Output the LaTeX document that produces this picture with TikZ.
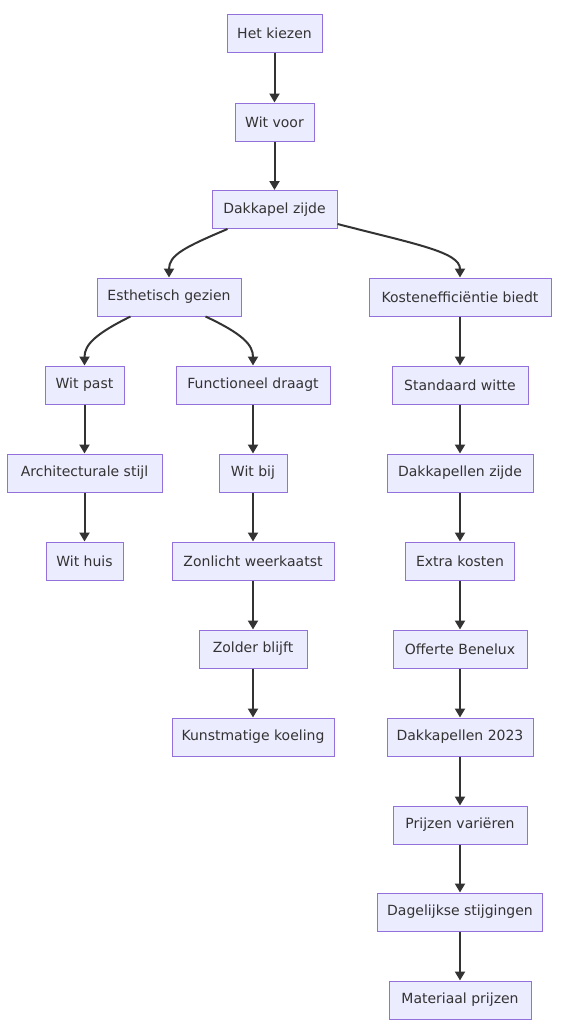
\documentclass[tikz,border=0pt]{standalone}
\usepackage{fontspec}
\setmainfont{DejaVu Sans}
\usetikzlibrary{arrows.meta}
\definecolor{nodefill}{HTML}{ECECFF}
\definecolor{nodeline}{HTML}{9370DB}
\definecolor{ink}{HTML}{333333}
\begin{document}
\begin{tikzpicture}[x=1pt,y=-1pt,
  box/.style={draw=nodeline,fill=nodefill,line width=1pt,minimum height=38pt,inner xsep=0pt,text=ink,font=\fontsize{14}{16}\selectfont},
  link/.style={draw=ink,line width=2pt,-{Triangle[length=9pt,width=10pt]}}]
\useasboundingbox[fill=white] (0,0) rectangle (567,1034);
\node[box,minimum width=95pt]  (n1) at (274.5,33) {Het kiezen};
\node[box,minimum width=79pt]  (n2) at (274.5,122) {Wit voor};
\node[box,minimum width=125pt] (n3) at (274.5,209.5) {Dakkapel zijde};
\node[box,minimum width=144pt] (e1) at (169,297) {Esthetisch gezien};
\node[box,minimum width=182pt] (k1) at (460,297) {Kostenefficiëntie biedt};
\node[box,minimum width=79pt]  (w1) at (84.5,385) {Wit past};
\node[box,minimum width=155pt] (w2) at (84.5,473) {Architecturale stijl};
\node[box,minimum width=77pt]  (w3) at (84.5,561) {Wit huis};
\node[box,minimum width=154pt] (f1) at (253,385) {Functioneel draagt};
\node[box,minimum width=68pt]  (f2) at (253,473) {Wit bij};
\node[box,minimum width=162pt] (f3) at (253,561) {Zonlicht weerkaatst};
\node[box,minimum width=108pt] (f4) at (253,649) {Zolder blijft};
\node[box,minimum width=162pt] (f5) at (253,737) {Kunstmatige koeling};
\node[box,minimum width=136pt] (k2) at (460,385) {Standaard witte};
\node[box,minimum width=146pt] (k3) at (460,473) {Dakkapellen zijde};
\node[box,minimum width=109pt] (k4) at (460,561) {Extra kosten};
\node[box,minimum width=134pt] (k5) at (460,649) {Offerte Benelux};
\node[box,minimum width=146pt] (k6) at (460,737) {Dakkapellen 2023};
\node[box,minimum width=134pt] (k7) at (460,825) {Prijzen variëren};
\node[box,minimum width=165pt] (k8) at (460,912) {Dagelijkse stijgingen};
\node[box,minimum width=142pt] (k9) at (460,1000) {Materiaal prijzen};
\draw[link] (n1) -- (n2);
\draw[link] (n2) -- (n3);
\draw[link] ([xshift=16pt]n3.south west) .. controls (185,247) and (169,255) .. (e1.north);
\draw[link] ([yshift=5pt]n3.south east) .. controls (415,244) and (460,252) .. (k1.north);
\draw[link] ([xshift=34pt]e1.south west) .. controls (95,334) and (84.5,345) .. (w1.north);
\draw[link] ([xshift=-36pt]e1.south east) .. controls (243,334) and (253,345) .. (f1.north);
\draw[link] (w1) -- (w2);
\draw[link] (w2) -- (w3);
\draw[link] (f1) -- (f2);
\draw[link] (f2) -- (f3);
\draw[link] (f3) -- (f4);
\draw[link] (f4) -- (f5);
\draw[link] (k1) -- (k2);
\draw[link] (k2) -- (k3);
\draw[link] (k3) -- (k4);
\draw[link] (k4) -- (k5);
\draw[link] (k5) -- (k6);
\draw[link] (k6) -- (k7);
\draw[link] (k7) -- (k8);
\draw[link] (k8) -- (k9);
\end{tikzpicture}
\end{document}
